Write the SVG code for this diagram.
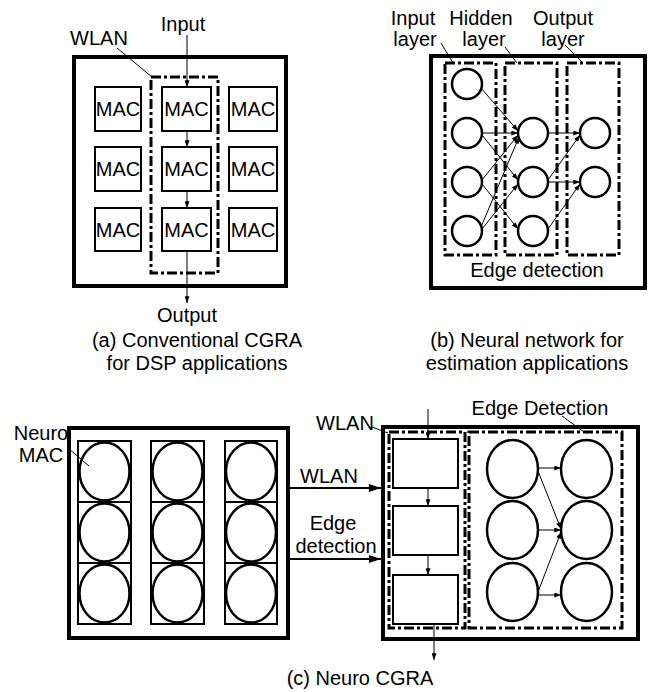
<svg xmlns="http://www.w3.org/2000/svg" width="651" height="692" viewBox="0 0 651 692">
<style>
.thick{fill:none;stroke:#000;stroke-width:4}
.box{fill:#fff;stroke:#000;stroke-width:2}
.dd{fill:none;stroke:#000;stroke-width:3;stroke-dasharray:10 3 3 3}
.cir{fill:#fff;stroke:#000;stroke-width:2.5}
.ln{stroke:#000;stroke-width:1;fill:none}
.arr{stroke:#000;stroke-width:1;fill:none;marker-end:url(#ah)}
.arrb{stroke:#000;stroke-width:2;fill:none;marker-end:url(#ahb)}
text{font-family:"Liberation Sans",Arial,sans-serif;font-size:20px;fill:#000;text-anchor:middle}
</style>
<defs>
<marker id="ah" viewBox="0 0 8 6" refX="8" refY="3" markerWidth="7" markerHeight="5" orient="auto" markerUnits="userSpaceOnUse"><path d="M0,0 L8,3 L0,6 z"/></marker>
<marker id="ahb" viewBox="0 0 12 8" refX="12" refY="4" markerWidth="12" markerHeight="8" orient="auto" markerUnits="userSpaceOnUse"><path d="M0,0 L12,4 L0,8 z"/></marker>
</defs>
<rect width="651" height="692" fill="#fff"/>

<!-- (a) -->
<g id="a-frame"><rect class="thick" x="74" y="57" width="212" height="229"/></g>
<g id="a-wlan"><rect class="dd" x="151" y="77" width="67" height="196"/><text x="99" y="45">WLAN</text></g>
<g id="a-mac11"><rect class="box" x="95" y="87" width="46" height="44"/><text x="118" y="116">MAC</text></g>
<g id="a-mac12"><rect class="box" x="162" y="87" width="49" height="44"/><text x="186.5" y="116">MAC</text></g>
<g id="a-mac13"><rect class="box" x="229" y="87" width="48" height="44"/><text x="253" y="116">MAC</text></g>
<g id="a-mac21"><rect class="box" x="95" y="147" width="46" height="44"/><text x="118" y="176">MAC</text></g>
<g id="a-mac22"><rect class="box" x="162" y="147" width="49" height="44"/><text x="186.5" y="176">MAC</text></g>
<g id="a-mac23"><rect class="box" x="229" y="147" width="48" height="44"/><text x="253" y="176">MAC</text></g>
<g id="a-mac31"><rect class="box" x="95" y="208" width="46" height="43"/><text x="118" y="237">MAC</text></g>
<g id="a-mac32"><rect class="box" x="162" y="208" width="49" height="43"/><text x="186.5" y="237">MAC</text></g>
<g id="a-mac33"><rect class="box" x="229" y="208" width="48" height="43"/><text x="253" y="237">MAC</text></g>
<g id="a-input"><text x="183" y="31">Input</text></g>
<g id="a-output"><text x="187" y="322">Output</text></g>
<g id="a-caption"><text x="197" y="347">(a) Conventional CGRA</text><text x="197" y="370">for DSP applications</text></g>

<!-- (b) -->
<g id="b-frame"><rect class="thick" x="431" y="56" width="214" height="232"/><text x="537" y="277">Edge detection</text></g>
<g id="b-input-layer"><rect class="dd" x="445" y="63" width="51" height="192"/><text x="413" y="25">Input</text><text x="415" y="46">layer</text></g>
<g id="b-hidden-layer"><rect class="dd" x="505" y="63" width="52" height="192"/><text x="481" y="25">Hidden</text><text x="484" y="46">layer</text></g>
<g id="b-output-layer"><rect class="dd" x="567" y="63" width="52" height="192"/><text x="563" y="25">Output</text><text x="563" y="46">layer</text></g>
<g id="b-i1"><circle class="cir" cx="467" cy="84" r="15"/></g>
<g id="b-i2"><circle class="cir" cx="467" cy="133" r="15"/></g>
<g id="b-i3"><circle class="cir" cx="467" cy="182" r="15"/></g>
<g id="b-i4"><circle class="cir" cx="467" cy="231" r="15"/></g>
<g id="b-h1"><circle class="cir" cx="533" cy="133" r="15"/></g>
<g id="b-h2"><circle class="cir" cx="533" cy="182" r="15"/></g>
<g id="b-h3"><circle class="cir" cx="533" cy="231" r="15"/></g>
<g id="b-o1"><circle class="cir" cx="595" cy="133" r="15"/></g>
<g id="b-o2"><circle class="cir" cx="595" cy="182" r="15"/></g>
<g id="b-caption"><text x="527" y="347">(b) Neural network for</text><text x="527" y="370">estimation applications</text></g>

<!-- (c) -->
<g id="c-left-frame"><rect class="thick" x="69" y="428" width="219" height="210"/><text x="41" y="440">Neuro</text><text x="41" y="462">MAC</text></g>
<g id="c-col1">
<rect class="box" x="78" y="441" width="53" height="61"/><rect class="box" x="78" y="502" width="53" height="61"/><rect class="box" x="78" y="563" width="53" height="61"/>
<ellipse class="cir" cx="104.5" cy="471.5" rx="25" ry="29"/><ellipse class="cir" cx="104.5" cy="532.5" rx="25" ry="29"/><ellipse class="cir" cx="104.5" cy="593.5" rx="25" ry="29"/>
</g>
<g id="c-col2">
<rect class="box" x="151" y="441" width="53" height="61"/><rect class="box" x="151" y="502" width="53" height="61"/><rect class="box" x="151" y="563" width="53" height="61"/>
<ellipse class="cir" cx="177.5" cy="471.5" rx="25" ry="29"/><ellipse class="cir" cx="177.5" cy="532.5" rx="25" ry="29"/><ellipse class="cir" cx="177.5" cy="593.5" rx="25" ry="29"/>
</g>
<g id="c-col3">
<rect class="box" x="225" y="441" width="52" height="61"/><rect class="box" x="225" y="502" width="52" height="61"/><rect class="box" x="225" y="563" width="52" height="61"/>
<ellipse class="cir" cx="251" cy="471.5" rx="25" ry="29"/><ellipse class="cir" cx="251" cy="532.5" rx="25" ry="29"/><ellipse class="cir" cx="251" cy="593.5" rx="25" ry="29"/>
</g>
<g id="c-right-frame"><rect class="thick" x="383" y="427" width="255" height="212"/></g>
<g id="c-wlan"><rect class="dd" x="389" y="432" width="76" height="196"/><text x="345" y="430">WLAN</text></g>
<g id="c-edge"><rect class="dd" x="469" y="432" width="153" height="196"/><text x="540" y="415">Edge Detection</text></g>
<g id="c-b1"><rect class="box" x="393" y="439" width="65" height="49"/></g>
<g id="c-b2"><rect class="box" x="393" y="506" width="65" height="49"/></g>
<g id="c-b3"><rect class="box" x="393" y="575" width="65" height="49"/></g>
<g id="c-n1"><ellipse class="cir" cx="512.5" cy="469" rx="25.5" ry="29"/></g>
<g id="c-n2"><ellipse class="cir" cx="512.5" cy="530" rx="25.5" ry="29"/></g>
<g id="c-n3"><ellipse class="cir" cx="512.5" cy="592" rx="25.5" ry="29"/></g>
<g id="c-n4"><ellipse class="cir" cx="586.5" cy="469" rx="25.5" ry="29"/></g>
<g id="c-n5"><ellipse class="cir" cx="586.5" cy="530" rx="25.5" ry="29"/></g>
<g id="c-n6"><ellipse class="cir" cx="586.5" cy="592" rx="25.5" ry="29"/></g>
<g id="c-labels"><text x="329" y="483">WLAN</text><text x="333" y="530">Edge</text><text x="336" y="553">detection</text></g>
<g id="c-caption"><text x="360" y="685">(c) Neuro CGRA</text></g>

<g id="connectors">
<!-- (a) -->
<line class="ln" x1="117" y1="48" x2="152" y2="77"/>
<line class="arr" x1="187" y1="35" x2="187" y2="87"/>
<line class="arr" x1="187" y1="131" x2="187" y2="147"/>
<line class="arr" x1="187" y1="191" x2="187" y2="208"/>
<line class="arr" x1="187" y1="251" x2="187" y2="303"/>
<!-- (b) -->
<line class="ln" x1="441" y1="43" x2="453" y2="63"/>
<line class="ln" x1="505" y1="47" x2="517" y2="63"/>
<line class="ln" x1="565" y1="45" x2="583" y2="63"/>
<line class="arr" x1="481" y1="88" x2="518" y2="131"/>
<line class="arr" x1="482" y1="133" x2="518" y2="133"/>
<line class="arr" x1="482" y1="135" x2="518" y2="180"/>
<line class="arr" x1="482" y1="180" x2="518" y2="135"/>
<line class="arr" x1="482" y1="184" x2="518" y2="229"/>
<line class="arr" x1="481" y1="227" x2="519" y2="137"/>
<line class="arr" x1="482" y1="229" x2="518" y2="184"/>
<line class="arr" x1="548" y1="133" x2="580" y2="133"/>
<line class="arr" x1="548" y1="180" x2="580" y2="135"/>
<line class="arr" x1="548" y1="182" x2="580" y2="182"/>
<line class="arr" x1="548" y1="229" x2="580" y2="184"/>
<!-- (c) -->
<line class="ln" x1="68" y1="448" x2="89" y2="466"/>
<line class="ln" x1="372" y1="427" x2="388" y2="433"/>
<line class="ln" x1="562" y1="416" x2="584" y2="432"/>
<line class="arrb" x1="290" y1="488" x2="381" y2="488"/>
<line class="arrb" x1="290" y1="559" x2="381" y2="559"/>
<line class="arr" x1="428" y1="409" x2="428" y2="439"/>
<line class="arr" x1="428" y1="488" x2="428" y2="506"/>
<line class="arr" x1="428" y1="555" x2="428" y2="575"/>
<line class="arr" x1="434" y1="624" x2="434" y2="660"/>
<line class="arr" x1="538" y1="468" x2="561" y2="468"/>
<line class="arr" x1="538" y1="471" x2="561" y2="529"/>
<line class="arr" x1="538" y1="530" x2="561" y2="530"/>
<line class="arr" x1="538" y1="592" x2="561" y2="532"/>
<line class="arr" x1="538" y1="595" x2="561" y2="595"/>
</g>
</svg>
